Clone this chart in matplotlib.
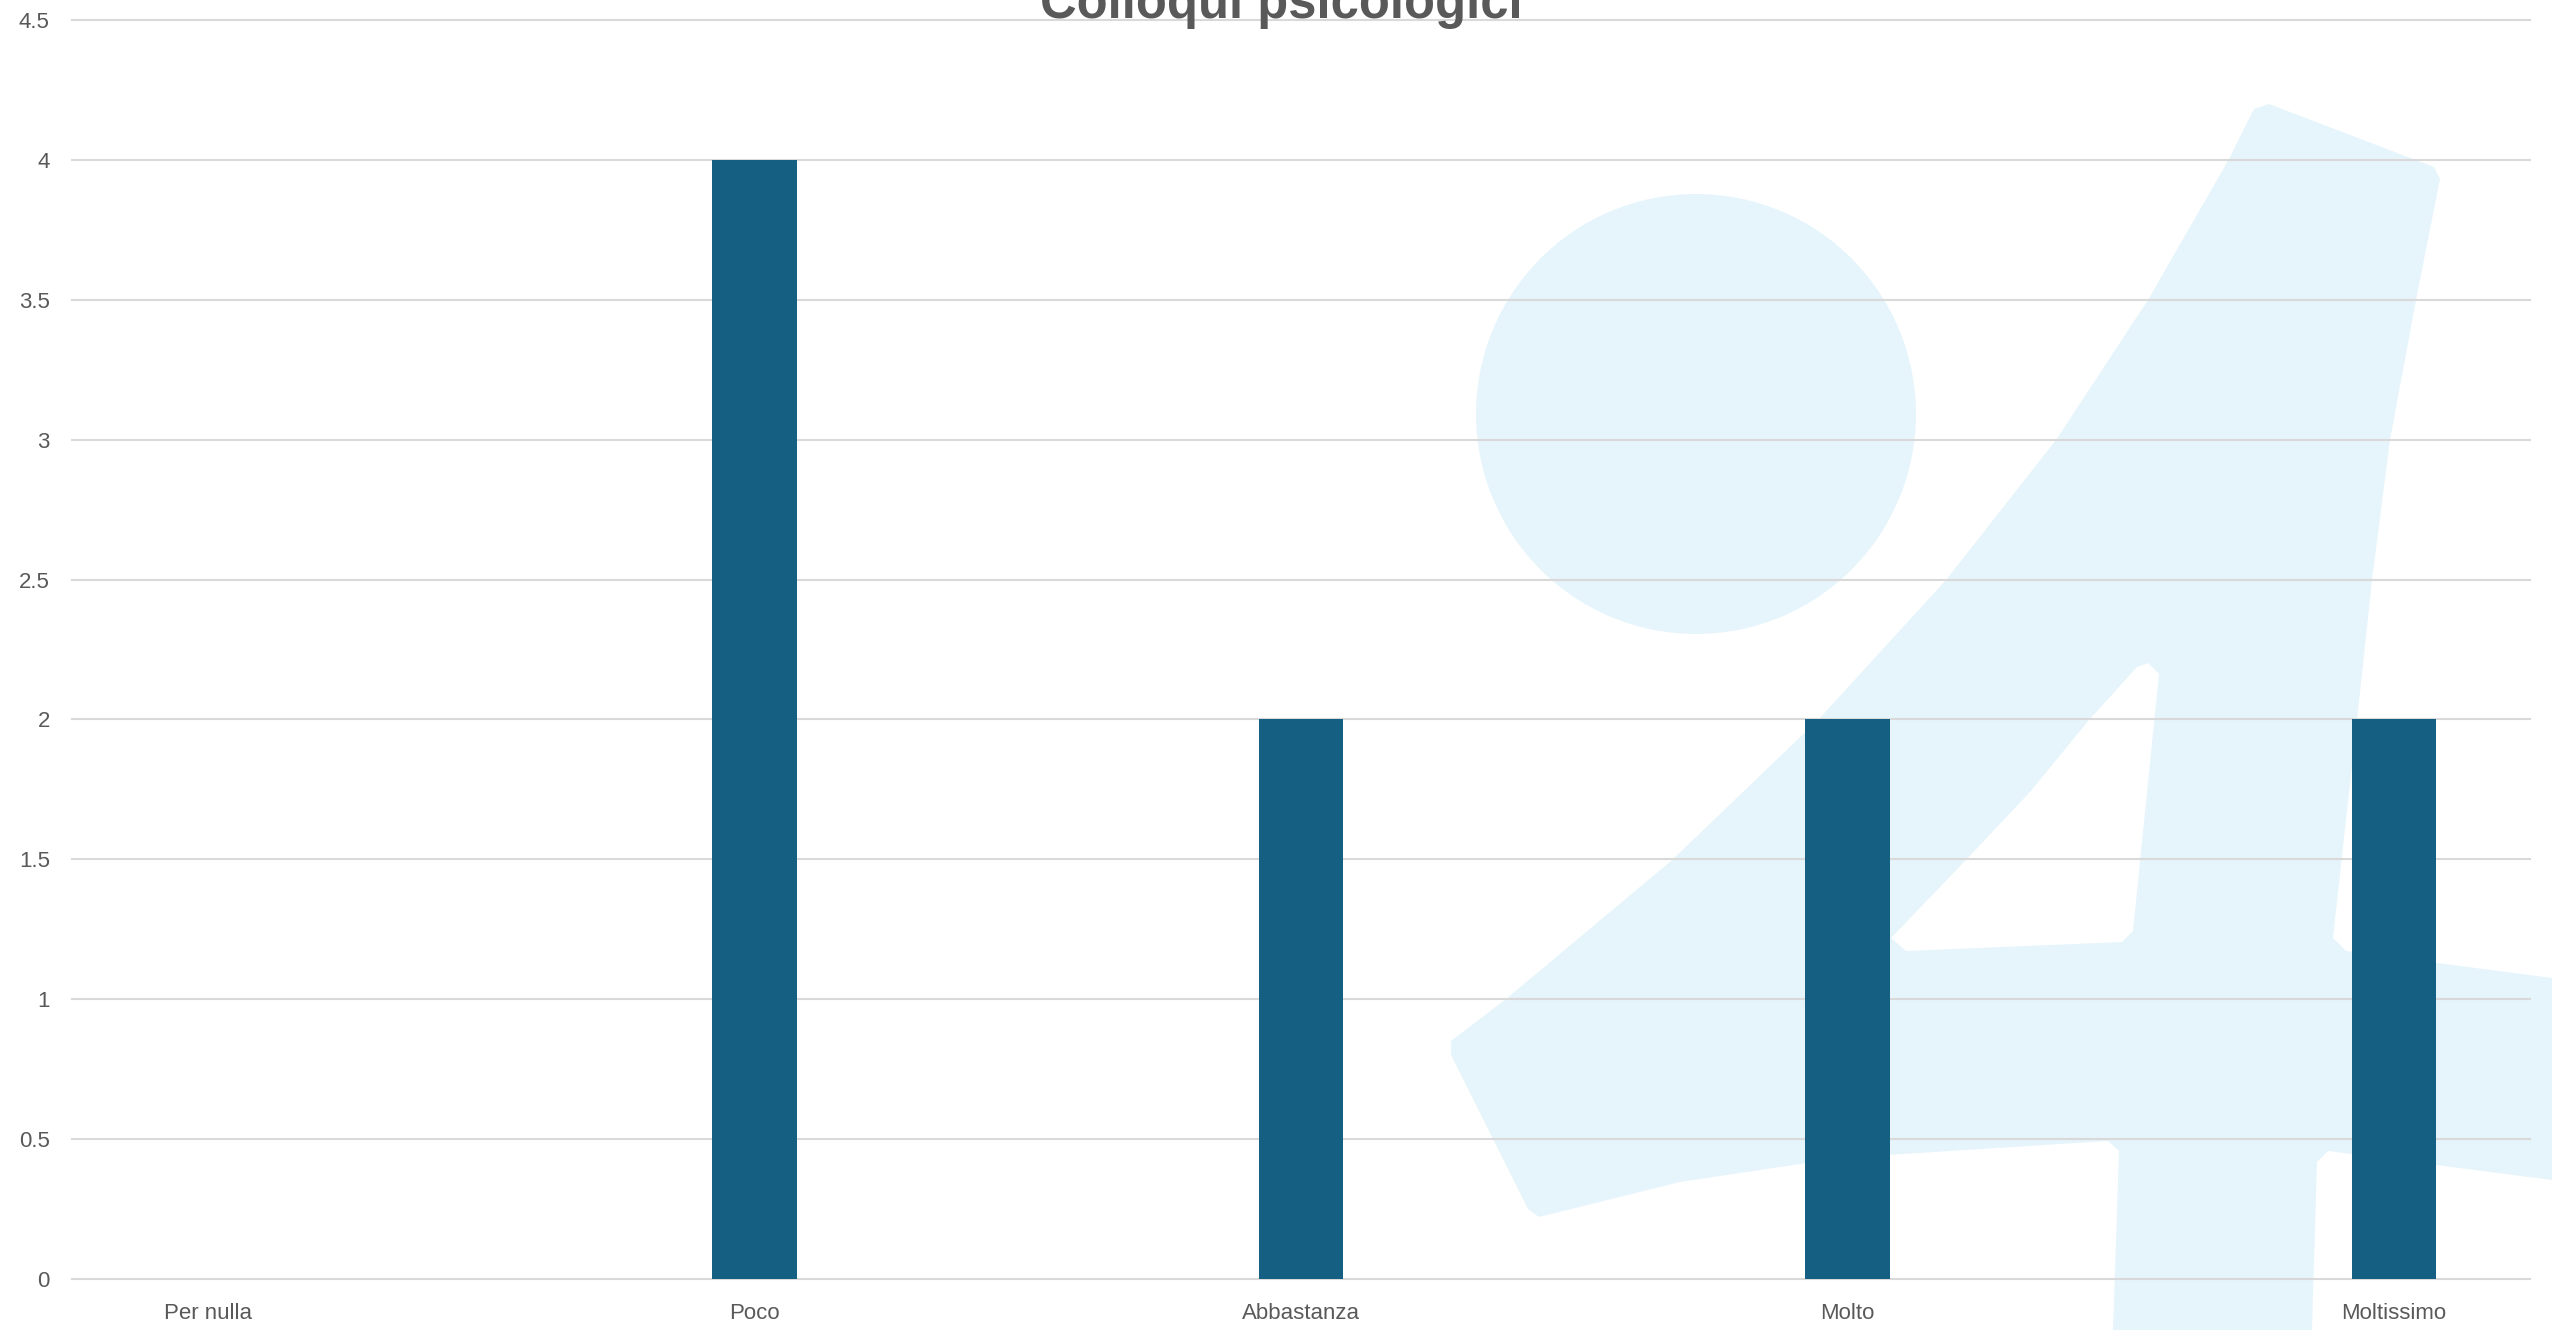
import matplotlib
matplotlib.use("Agg")
import matplotlib.pyplot as plt
from matplotlib.patches import Polygon, Circle
from matplotlib.transforms import IdentityTransform

# data
categories = ["Per nulla", "Poco", "Abbastanza", "Molto", "Moltissimo"]
values = [0, 4, 2, 2, 2]
y_ticks = [0, 0.5, 1, 1.5, 2, 2.5, 3, 3.5, 4, 4.5]
y_tick_labels = ["0", "0.5", "1", "1.5", "2", "2.5", "3", "3.5", "4", "4.5"]
title = "Colloqui psicologici"

W, H = 2552, 1330
BAR_COLOR = "#156082"
TEXT_COLOR = "#595959"
GRID_COLOR = "#d9d9d9"
LOGO_COLOR = "#e6f5fb"

plt.rcParams["font.family"] = ["Liberation Sans", "DejaVu Sans"]

fig = plt.figure(figsize=(W / 100, H / 100), dpi=100)
fig.patch.set_facecolor("white")


def px(points):
    # image pixel coords (top-left origin) -> display coords
    return [(x, H - y) for x, y in points]


# background logo (light blue "4" with a dot)
outer = [
    (1451, 1041), (1506, 999), (1671, 861), (1818, 720), (1946, 580),
    (2056, 440), (2148, 300), (2229, 159), (2254, 109), (2269, 104),
    (2434, 167), (2440, 179), (2416, 300), (2390, 440), (2372, 580),
    (2357, 720), (2333, 938), (2346, 951), (2552, 978), (2552, 1180),
    (2328, 1151), (2317, 1162), (2312, 1330), (2113, 1330), (2119, 1151),
    (2108, 1141), (1840, 1158), (1680, 1182), (1539, 1217), (1528, 1209),
    (1451, 1055),
]
hole = [
    (1891, 938), (1965, 861), (2030, 792), (2089, 720), (2137, 667),
    (2148, 663), (2159, 674), (2133, 931), (2122, 942), (1906, 951),
]
fig.patches.append(Polygon(px(outer), closed=True, facecolor=LOGO_COLOR,
                           edgecolor="none", transform=IdentityTransform(),
                           zorder=-5))
fig.patches.append(Polygon(px(hole), closed=True, facecolor="white",
                           edgecolor="none", transform=IdentityTransform(),
                           zorder=-4))
fig.patches.append(Circle((1696, H - 414), 220, facecolor=LOGO_COLOR,
                          edgecolor="none", transform=IdentityTransform(),
                          zorder=-5))

# axes placed to match the reference plot area
left, right, top, bottom = 72, 2530, 20, 1279
ax = fig.add_axes([left / W, (H - bottom) / H, (right - left) / W, (bottom - top) / H])
ax.set_facecolor("none")

x = list(range(len(categories)))
ax.bar(x, values, width=0.155, color=BAR_COLOR, zorder=3)

ax.set_xlim(-0.249, 4.249)
ax.set_ylim(0, 4.5)
ax.set_yticks(y_ticks)
ax.set_yticklabels(y_tick_labels)
ax.set_xticks(x)
ax.set_xticklabels(categories)

ax.set_axisbelow(True)
ax.yaxis.grid(True, color=GRID_COLOR, linewidth=1.5)
for s in ax.spines.values():
    s.set_visible(False)
ax.tick_params(axis="both", length=0, labelsize=16, labelcolor=TEXT_COLOR)
ax.tick_params(axis="y", pad=16)
ax.tick_params(axis="x", pad=17)
for gl in ax.get_ygridlines():
    gl.set_clip_on(False)

fig.text(1281 / W, 1 - 18 / H, title, ha="center", va="baseline",
         fontsize=36.5, fontweight="bold", color=TEXT_COLOR)

fig.savefig("out.png", dpi=100, facecolor="white")
